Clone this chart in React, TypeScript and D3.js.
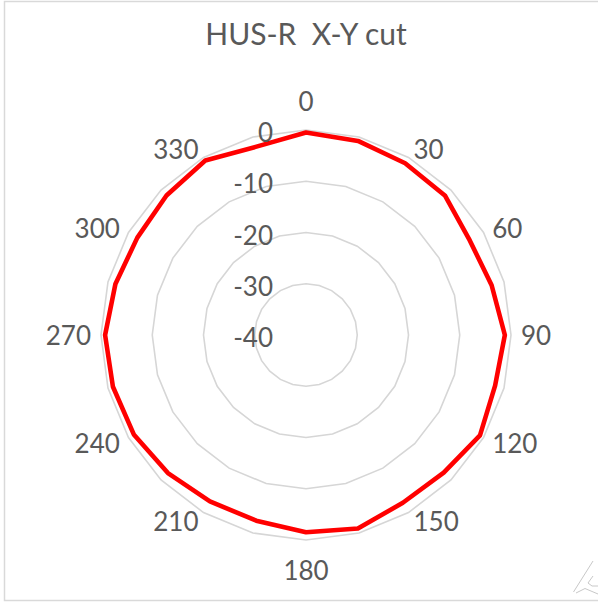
import React from "react";
import * as d3 from "d3";

const title = "HUS-R  X-Y cut";
const angles = [0, 15, 30, 45, 60, 75, 90, 105, 120, 135, 150, 165, 180, 195, 210, 225, 240, 255, 270, 285, 300, 315, 330, 345];
const gainDb = [-0.5, -0.8, -1.3, -1.6, -3.1, -2.5, -1.2, -1.8, -0.8, -2.0, -2.2, -0.9, -1.5, -2.5, -2.5, -1.9, -1.2, -1.0, -0.8, -1.5, -2.0, -1.5, -0.7, -2.0];
const angleTickLabels = ["0", "30", "60", "90", "120", "150", "180", "210", "240", "270", "300", "330"];
const angleTickValues = [0, 30, 60, 90, 120, 150, 180, 210, 240, 270, 300, 330];
const radialTicks = [0, -10, -20, -30, -40];

const W = 598;
const H = 602;
const cx = 306;
const cy = 335;
const R = 205;
const FONT = "Lato, 'Liberation Sans', Arial, sans-serif";
const TEXT = "#595959";

export default function App() {
  const r = d3.scaleLinear().domain([-40, 0]).range([0, R]);
  const toRad = (deg: number) => (deg * Math.PI) / 180;

  const dataLine = d3
    .lineRadial<number>()
    .angle((_, i) => toRad(angles[i]))
    .radius((d) => r(d))
    .curve(d3.curveLinearClosed);

  const rings = radialTicks.filter((t) => t > -40).map((t) => {
    const line = d3
      .lineRadial<number>()
      .angle((a) => toRad(a))
      .radius(() => r(t))
      .curve(d3.curveLinearClosed);
    return { t, d: line(angles) || "" };
  });

  const labelRl = 215;

  return (
    <div style={{ position: "fixed", left: 0, top: 0 }}>
      <svg width={W} height={H} style={{ display: "block", background: "#fff" }}>
        <rect x={4.5} y={1.5} width={W + 10} height={599} fill="#fff" stroke="#d9d9d9" strokeWidth={1.5} />
        <text
          x={306}
          y={45}
          textAnchor="middle"
          fontFamily={FONT}
          fontSize={30}
          fill={TEXT}
          style={{ whiteSpace: "pre" }}
        >
          {title}
        </text>
        <g transform={`translate(${cx},${cy})`}>
          {rings.map((g) => (
            <path key={g.t} d={g.d} fill="none" stroke="#d6d6d6" strokeWidth={1.6} />
          ))}
          <path d={dataLine(gainDb) || ""} fill="none" stroke="#ff0000" strokeWidth={4.6} strokeLinejoin="round" />
          {radialTicks.map((t) => (
            <text
              key={t}
              x={-33}
              y={-r(t) + 2}
              textAnchor="end"
              dominantBaseline="central"
              fontFamily={FONT}
              fontSize={26}
              fill={TEXT}
            >
              {t}
            </text>
          ))}
        </g>
        {angleTickValues.map((a, i) => {
          const s = Math.sin(toRad(a));
          const c = Math.cos(toRad(a));
          const px = cx + labelRl * s;
          const py = cy - labelRl * c;
          let anchor: "start" | "end" | "middle" = "middle";
          let ly = py;
          if (s > 0.01) anchor = "start";
          else if (s < -0.01) anchor = "end";
          else ly = py - c * 19.5;
          return (
            <text
              key={a}
              x={px}
              y={ly}
              textAnchor={anchor}
              dominantBaseline="central"
              fontFamily={FONT}
              fontSize={26}
              fill={TEXT}
            >
              {angleTickLabels[i]}
            </text>
          );
        })}
        <path
          d="M573.5,592 L593,561 M576,593 L585,588.5 L598,594 M593,576 L588,583 L592,586 L598,586"
          fill="none"
          stroke="#c8c8c8"
          strokeWidth={1}
        />
      </svg>
    </div>
  );
}
